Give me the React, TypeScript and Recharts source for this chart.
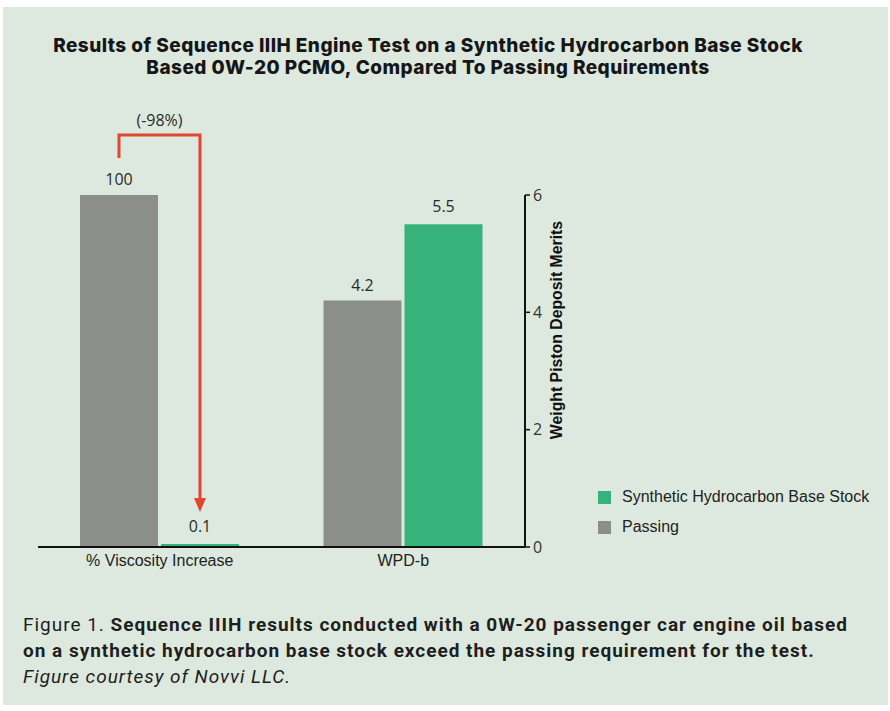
import { BarChart, Bar, XAxis, YAxis, Legend, LabelList } from 'recharts';

const categories = ['% Viscosity Increase', 'WPD-b'];
const passing = [100, 4.2];
const synthetic = [0.1, 5.5];
// first group is read on a 0-100 scale, second on the 0-6 merits axis
const groupScaleMax = [100, 6];
const meritTicks = [0, 2, 4, 6];
const changeNote = '(-98%)';

const GRAY = '#8b8e8b';
const GREEN = '#35b37b';
const RED = '#e0472f';
const BG = '#dde9de';

const rows = categories.map((c, i) => ({
  category: c,
  passing: (passing[i] * 6) / groupScaleMax[i],
  synthetic: (synthetic[i] * 6) / groupScaleMax[i],
  passingRaw: passing[i],
  syntheticRaw: synthetic[i],
}));

const BAR_GAP = 3;

function ArrowNote(props: any) {
  const { index } = props;
  const vb = props.viewBox || props;
  if (index !== 0) return null;
  const { x, y, width, height } = vb;
  const x1 = x + width / 2;
  const x2 = x + width + BAR_GAP + width / 2;
  const top = y - 60;
  const tipY = y + height - 35;
  return (
    <g>
      <path d={`M${x1},${y - 37} V${top} H${x2} V${tipY - 12}`} stroke={RED} strokeWidth={3} fill="none" />
      <polygon points={`${x2 - 6},${tipY - 14} ${x2 + 6},${tipY - 14} ${x2},${tipY}`} fill={RED} />
      <text x={(x1 + x2) / 2} y={y - 75} textAnchor="middle" dominantBaseline="central" fontSize={16} fill="#2b2b2b" fontFamily="'Open Sans', sans-serif">
        {changeNote}
      </text>
    </g>
  );
}

function AxisTitle({ viewBox }: any) {
  const cx = viewBox.x + 31;
  const cy = viewBox.y + viewBox.height / 2 - 41;
  return (
    <text x={cx} y={cy} transform={`rotate(-90 ${cx} ${cy})`} textAnchor="middle" dominantBaseline="central"
      fontSize={15.8} fontWeight="bold" fill="#111" fontFamily="'Liberation Sans', Arial, sans-serif">
      Weight Piston Deposit Merits
    </text>
  );
}

const legendOrder = ['Synthetic Hydrocarbon Base Stock', 'Passing'];

function LegendBox({ payload }: any) {
  const items = [...(payload || [])].sort((a: any, b: any) => legendOrder.indexOf(a.value) - legendOrder.indexOf(b.value));
  return (
    <div style={{ fontFamily: "'Liberation Sans', Arial, sans-serif", fontSize: 16, color: '#222' }}>
      {items.map((it: any) => (
        <div key={it.value} style={{ display: 'flex', alignItems: 'center', height: 30 }}>
          <span style={{ width: 13, height: 13, background: it.color, display: 'inline-block', marginRight: 11 }} />
          {it.value}
        </div>
      ))}
    </div>
  );
}

export default function App() {
  return (
    <div style={{ position: 'absolute', left: 0, top: 0, width: 890, height: 711, background: '#fff' }}>
      <div style={{ position: 'absolute', left: 3, top: 7, width: 885, height: 698, background: BG }} />
      <div style={{ position: 'absolute', left: 0, top: 35, width: 856, textAlign: 'center', fontFamily: 'Inter, sans-serif', fontWeight: 800, fontSize: 19, letterSpacing: 0.45, lineHeight: '22px', color: '#161616', whiteSpace: 'nowrap' }}>
        Results of Sequence IIIH Engine Test on a Synthetic Hydrocarbon Base Stock<br />
        Based 0W-20 PCMO, Compared To Passing Requirements
      </div>
      <div style={{ position: 'absolute', left: 0, top: 0 }}>
        <BarChart width={890} height={600} data={rows} margin={{ top: 195, left: 38, right: 303, bottom: 23 }}
          barGap={BAR_GAP} barSize={78}>
          <XAxis dataKey="category" axisLine={{ stroke: '#111', strokeWidth: 2 }} tickLine={false} tickSize={0} tickMargin={8}
            tick={{ fontSize: 16, fill: '#222', fontFamily: "'Liberation Sans', Arial, sans-serif" }} height={30} />
          <YAxis orientation="right" domain={[0, 6]} ticks={meritTicks} width={62}
            axisLine={{ stroke: '#111', strokeWidth: 2 }} tickLine={{ stroke: '#111', strokeWidth: 1.5 }} tickSize={5} tickMargin={3}
            tick={{ fontSize: 16, fill: '#333', fontFamily: "'Open Sans', sans-serif" }} label={<AxisTitle />} />
          <Legend layout="vertical" align="center" verticalAlign="middle" content={<LegendBox />}
            wrapperStyle={{ left: 598, top: 482, width: 290 }} />
          <Bar dataKey="passing" name="Passing" fill={GRAY} isAnimationActive={false}>
            <LabelList dataKey="passingRaw" position="top" offset={10} fontSize={16} fill="#2b2b2b" fontFamily="'Open Sans', sans-serif" />
            <LabelList dataKey="passingRaw" content={<ArrowNote />} />
          </Bar>
          <Bar dataKey="synthetic" name="Synthetic Hydrocarbon Base Stock" fill={GREEN} minPointSize={3} isAnimationActive={false}>
            <LabelList dataKey="syntheticRaw" position="top" offset={12} fontSize={16} fill="#2b2b2b" fontFamily="'Open Sans', sans-serif" />
          </Bar>
        </BarChart>
      </div>
      <div style={{ position: 'absolute', left: 23, top: 612, width: 860, fontFamily: 'Roboto, sans-serif', fontSize: 19, letterSpacing: 0.98, lineHeight: '26px', color: '#1e1e1e', whiteSpace: 'nowrap' }}>
        Figure 1. <b>Sequence IIIH results conducted with a 0W-20 passenger car engine oil based</b>
        <br />
        <b>on a synthetic hydrocarbon base stock exceed the passing requirement for the test.</b>
        <br />
        <i>Figure courtesy of Novvi LLC.</i>
      </div>
    </div>
  );
}
